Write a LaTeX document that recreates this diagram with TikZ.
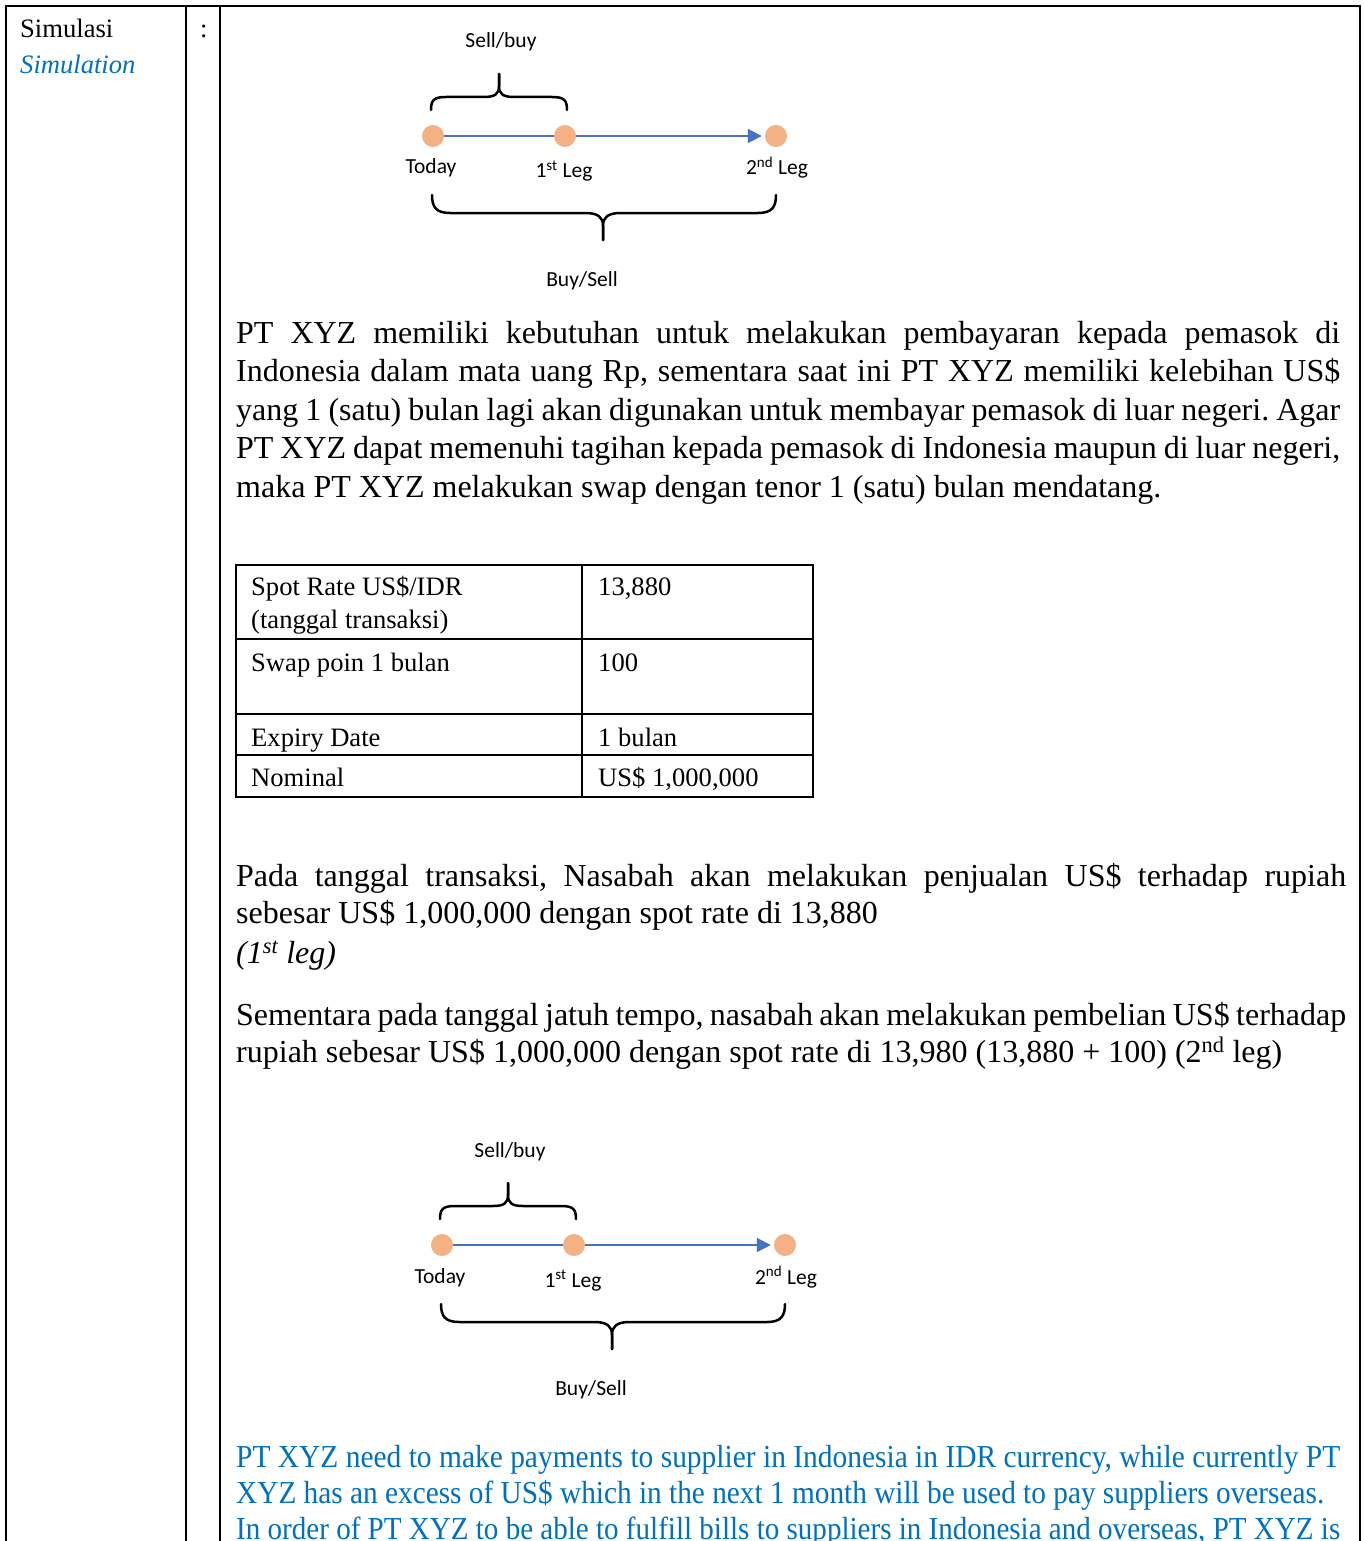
\documentclass[tikz,border=0pt]{standalone}
\usepackage{fontspec}
\usepackage{graphicx}
\setmainfont{Liberation Serif}
\newfontfamily\diagfont{Carlito}
\usetikzlibrary{arrows.meta}
\frenchspacing
\definecolor{engblue}{RGB}{0,112,192}
\definecolor{dotorange}{RGB}{244,177,131}
\definecolor{lineblue}{RGB}{68,114,196}
\newcommand\jl[2]{\makebox[#1][s]{#2}}
\newcommand\sq[2]{\resizebox{#1}{\height}{#2}}
\tikzset{
  rule/.style={line width=2pt, line cap=rect},
  body/.style={anchor=base west, inner sep=0pt, font=\fontsize{32}{38}\selectfont},
  small/.style={anchor=base west, inner sep=0pt, font=\fontsize{26.6}{32}\selectfont},
  dot/.style={circle, fill=dotorange, draw=none, minimum size=22pt, inner sep=0pt},
  timeline/.style={draw=lineblue, line width=2pt},
  bracepath/.style={line width=2.5pt, line cap=round, line join=round},
  dlabel/.style={anchor=base, inner sep=0pt, font=\diagfont\fontsize{21.5}{25}\selectfont},
}
\newcommand\swapdiag[3]{%
\begin{scope}[shift={(#2,#3)}, name prefix=#1-]
  \node[dot] (today) at (433,136) {};
  \node[dot] (leg1) at (565,136) {};
  \node[dot] (leg2) at (776,136) {};
  \draw[timeline] (today) -- (leg1);
  \draw[timeline, -{Triangle[length=14pt,width=14pt]}, shorten >=3pt] (leg1) -- (leg2);
  \node[dlabel] (lbltoday) at (431,174) {Today};
  \node[dlabel] (lblleg1) at (564,178) {1\textsuperscript{st} Leg};
  \node[dlabel] (lblleg2) at (777,175) {2\textsuperscript{nd} Leg};
  \node[dlabel] (lblsb) at (501,48) {Sell/buy};
  \node[dlabel] (lblbs) at (582,286) {Buy/Sell};
  \coordinate (tb1) at (431,110);
  \coordinate (tb2) at (567,110);
  \coordinate (tbtip) at (499,74);
  \draw[bracepath] (tb1) .. controls (431,100) and (434,97) .. (446,97) -- (484,97)
     .. controls (495,97) and (499,94) .. (499,86) -- (tbtip);
  \draw[bracepath] (tb2) .. controls (567,100) and (564,97) .. (552,97) -- (514,97)
     .. controls (503,97) and (499,94) .. (499,86) -- (tbtip);
  \coordinate (bb1) at (432,195);
  \coordinate (bb2) at (776,195);
  \coordinate (bbtip) at (603,240);
  \draw[bracepath] (bb1) .. controls (432,207) and (436,213) .. (450,213) -- (585,213)
     .. controls (598,213) and (603,217) .. (603,226) -- (bbtip);
  \draw[bracepath] (bb2) .. controls (776,207) and (772,213) .. (758,213) -- (621,213)
     .. controls (608,213) and (603,217) .. (603,226) -- (bbtip);
\end{scope}}

\begin{document}
\begin{tikzpicture}[x=1pt,y=-1pt]
\useasboundingbox (0,0) rectangle (1364,1541);
\fill[white] (0,0) rectangle (1364,1541);
% frame
\draw[rule] (6,1545) -- (6,6) -- (1360,6) -- (1360,1545);
\draw[rule] (186,6) -- (186,1545);
\draw[rule] (220,6) -- (220,1545);
% title
\node[small] (t1) at (20,38) {Simulasi};
\node[small, text=engblue, font=\fontsize{26.6}{32}\selectfont\itshape] (t2) at (20,74) {Simulation};
\node[small] (colon) at (200,38) {:};
% diagram 1
\swapdiag{d1}{0}{0}
% paragraph 1
\node[body] (p1a) at (236,343) {\jl{1104pt}{PT XYZ memiliki kebutuhan untuk melakukan pembayaran kepada pemasok di}};
\node[body] (p1b) at (236,381.5) {\jl{1104pt}{Indonesia dalam mata uang Rp, sementara saat ini PT XYZ memiliki kelebihan US\$}};
\node[body] (p1c) at (236,420) {\jl{1104pt}{yang 1 (satu) bulan lagi akan digunakan untuk membayar pemasok di luar negeri. Agar}};
\node[body] (p1d) at (236,458.5) {\jl{1104pt}{PT XYZ dapat memenuhi tagihan kepada pemasok di Indonesia maupun di luar negeri,}};
\node[body] (p1e) at (236,497) {maka PT XYZ melakukan swap dengan tenor 1 (satu) bulan mendatang.};
% table
\draw[rule] (236,565) rectangle (813,797);
\draw[rule] (582,565) -- (582,797);
\draw[rule] (236,639) -- (813,639);
\draw[rule] (236,714) -- (813,714);
\draw[rule] (236,755) -- (813,755);
\node[small] (c11) at (251,595) {Spot Rate US\$/IDR};
\node[small] (c11b) at (251,628) {(tanggal transaksi)};
\node[small] (c12) at (598,595) {13,880};
\node[small] (c21) at (251,671) {Swap poin 1 bulan};
\node[small] (c22) at (598,671) {100};
\node[small] (c31) at (251,746) {Expiry Date};
\node[small] (c32) at (598,746) {1 bulan};
\node[small] (c41) at (251,786) {Nominal};
\node[small] (c42) at (598,786) {US\$ 1,000,000};
% paragraph 2
\node[body] (p2a) at (236,886) {\jl{1110pt}{Pada tanggal transaksi, Nasabah akan melakukan penjualan US\$ terhadap rupiah}};
\node[body] (p2b) at (236,923) {sebesar US\$ 1,000,000 dengan spot rate di 13,880};
\node[body] (p2c) at (236,963) {\textit{(1\textsuperscript{st} leg)}};
% paragraph 3
\node[body] (p3a) at (236,1025) {\jl{1110pt}{Sementara pada tanggal jatuh tempo, nasabah akan melakukan pembelian US\$ terhadap}};
\node[body] (p3b) at (236,1062) {rupiah sebesar US\$ 1,000,000 dengan spot rate di 13,980 (13,880 + 100) (2\textsuperscript{nd} leg)};
% diagram 2
\swapdiag{d2}{9}{1109}
% english
\node[body, text=engblue] (e1) at (236,1467) {\sq{1104pt}{PT XYZ need to make payments to supplier in Indonesia in IDR currency, while currently PT}};
\node[body, text=engblue] (e2) at (236,1503) {\sq{1088pt}{XYZ has an excess of US\$ which in the next 1 month will be used to pay suppliers overseas.}};
\node[body, text=engblue] (e3) at (236,1539) {\sq{1104pt}{In order of PT XYZ to be able to fulfill bills to suppliers in Indonesia and overseas, PT XYZ is}};
\end{tikzpicture}
\end{document}
